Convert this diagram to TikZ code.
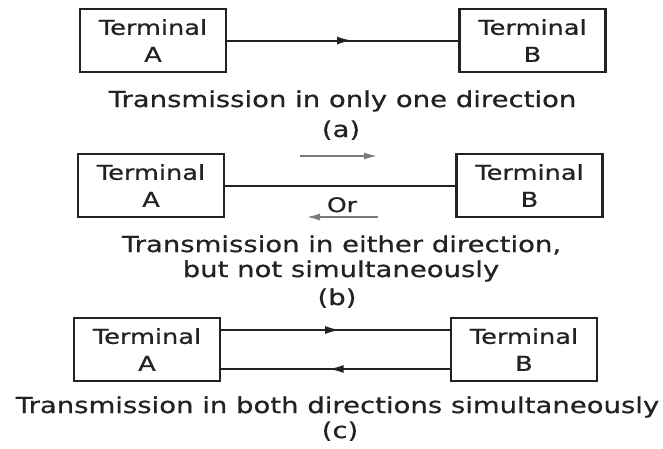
\documentclass[tikz,border=0pt]{standalone}
\usepackage{fontspec}
\setmainfont{DejaVu Sans}[FakeStretch=1.25,FakeBold=0.6]
\usetikzlibrary{arrows.meta,decorations.markings}
\definecolor{ink}{HTML}{222222}
\definecolor{ghost}{HTML}{7A7A7A}
\begin{document}
\begin{tikzpicture}[x=1pt,y=-1pt,
  terminal/.style={draw=ink, line width=2.2pt, minimum width=146pt, minimum height=63pt,
    inner sep=0pt, align=center, text=ink, font=\fontsize{20.5}{27}\selectfont},
  caption/.style={anchor=base, text=ink, inner sep=0pt, font=\fontsize{22}{25}\selectfont},
  wire/.style={draw=ink, line width=2pt},
  tip/.style={postaction={decorate, decoration={markings,
    mark=at position #1 with {\arrow{Latex[length=15pt,width=8pt]}}}}},
  hint/.style={draw=ghost, line width=1.5pt, -{Latex[length=13pt,width=7pt]}}
]
\fill[white] (0,0) rectangle (663,448);
\useasboundingbox (0,0) rectangle (663,448);

% (a) simplex
\node[terminal] (aA) at (153,40.5) {Terminal\\A};
\node[terminal] (aB) at (532.5,40.5) {Terminal\\B};
\draw[wire, tip=0.54] (aA.east) -- (aB.west);
\node[caption] (capa) at (342.5,107) {Transmission in only one direction};
\node[caption] (laba) at (341,137) {(a)};

% (b) half duplex
\node[terminal] (bA) at (151,185.5) {Terminal\\A};
\node[terminal] (bB) at (529.5,185.5) {Terminal\\B};
\draw[wire] (bA.east) -- (bB.west);
\coordinate (fwd0) at (300,156);
\coordinate (fwd1) at (377,156);
\coordinate (rev0) at (378,217);
\coordinate (rev1) at (307,217);
\draw[hint] (fwd0) -- (fwd1);
\draw[hint] (rev0) -- (rev1);
\node[anchor=base, text=ink, inner sep=0pt, font=\fontsize{20}{24}\selectfont] (orlbl) at (342,212) {Or};
\node[caption] (capb1) at (341.5,252) {Transmission in either direction,};
\node[caption] (capb2) at (341,277) {but not simultaneously};
\node[caption] (labb) at (337,305) {(b)};

% (c) full duplex
\node[terminal] (cA) at (147,349.5) {Terminal\\A};
\node[terminal] (cB) at (524,349.5) {Terminal\\B};
\draw[wire, tip=0.52] ([yshift=19.5pt]cA.east) -- ([yshift=19.5pt]cB.west);
\draw[wire, tip=0.53] ([yshift=-19.5pt]cB.west) -- ([yshift=-19.5pt]cA.east);
\node[caption] (capc) at (337.5,413) {Transmission in both directions simultaneously};
\node[caption] (labc) at (340,438) {(c)};
\end{tikzpicture}
\end{document}
